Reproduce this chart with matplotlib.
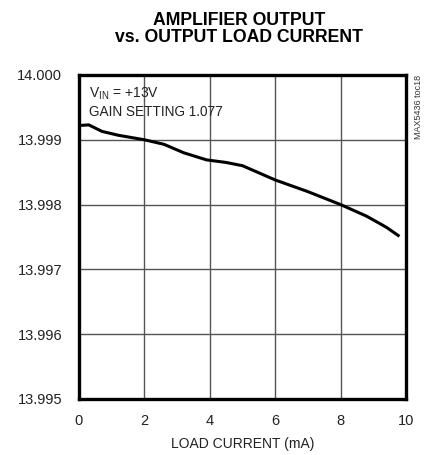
import matplotlib
matplotlib.use("Agg")
import matplotlib.pyplot as plt

plt.rcParams['font.family'] = ['Liberation Sans', 'DejaVu Sans']

# Data
load_current = [0.0, 0.3, 0.7, 1.2, 2.0, 2.6, 3.2, 3.9, 4.5, 5.0, 6.0, 7.0, 8.0, 8.8, 9.4, 9.8]
output_v = [13.99922, 13.99923, 13.99913, 13.99907, 13.99900, 13.99893, 13.99880, 13.99869,
            13.99865, 13.99860, 13.99838, 13.99820, 13.99800, 13.99782, 13.99765, 13.99751]
x_ticks = [0, 2, 4, 6, 8, 10]
y_ticks = [13.995, 13.996, 13.997, 13.998, 13.999, 14.000]
y_tick_labels = ["13.995", "13.996", "13.997", "13.998", "13.999", "14.000"]

fig = plt.figure(figsize=(4.35, 4.55), dpi=100)
ax = fig.add_axes([0.1816, 0.1231, 0.7517, 0.7121])
ax.plot(load_current, output_v, color='black', lw=2.2, solid_capstyle='butt')
ax.set_xlim(0, 10)
ax.set_ylim(13.995, 14.000)
ax.set_xticks(x_ticks)
ax.set_yticks(y_ticks)
ax.set_yticklabels(y_tick_labels)
ax.tick_params(axis='y', length=0, labelsize=10.5, pad=12, colors='#222222')
ax.tick_params(axis='x', length=0, labelsize=10.5, pad=11, colors='#222222')
ax.grid(True, color='#555555', lw=1.0)
for s in ax.spines.values():
    s.set_linewidth(2.4)
    s.set_color('black')
ax.set_xlabel("LOAD CURRENT (mA)", fontsize=10, labelpad=6, color='#222222')

fig.text(0.550, 0.956, "AMPLIFIER OUTPUT", ha='center', va='center', fontsize=12.7,
         fontweight='bold', color='black')
fig.text(0.550, 0.9165, "vs. OUTPUT LOAD CURRENT", ha='center', va='center', fontsize=12.7,
         fontweight='bold', color='black')

ax.text(0.03, 0.966, r"V$_{\mathregular{IN}}$ = +13V", transform=ax.transAxes, fontsize=10,
        ha='left', va='top', color='#222222')
ax.text(0.03, 0.907, "GAIN SETTING 1.077", transform=ax.transAxes, fontsize=9.8,
        ha='left', va='top', color='#222222')

fig.text(0.961, 0.836, "MAX5436 toc18", rotation=90, ha='center', va='top', fontsize=6.5,
         color='#333333')

fig.savefig("out.png", dpi=100)
